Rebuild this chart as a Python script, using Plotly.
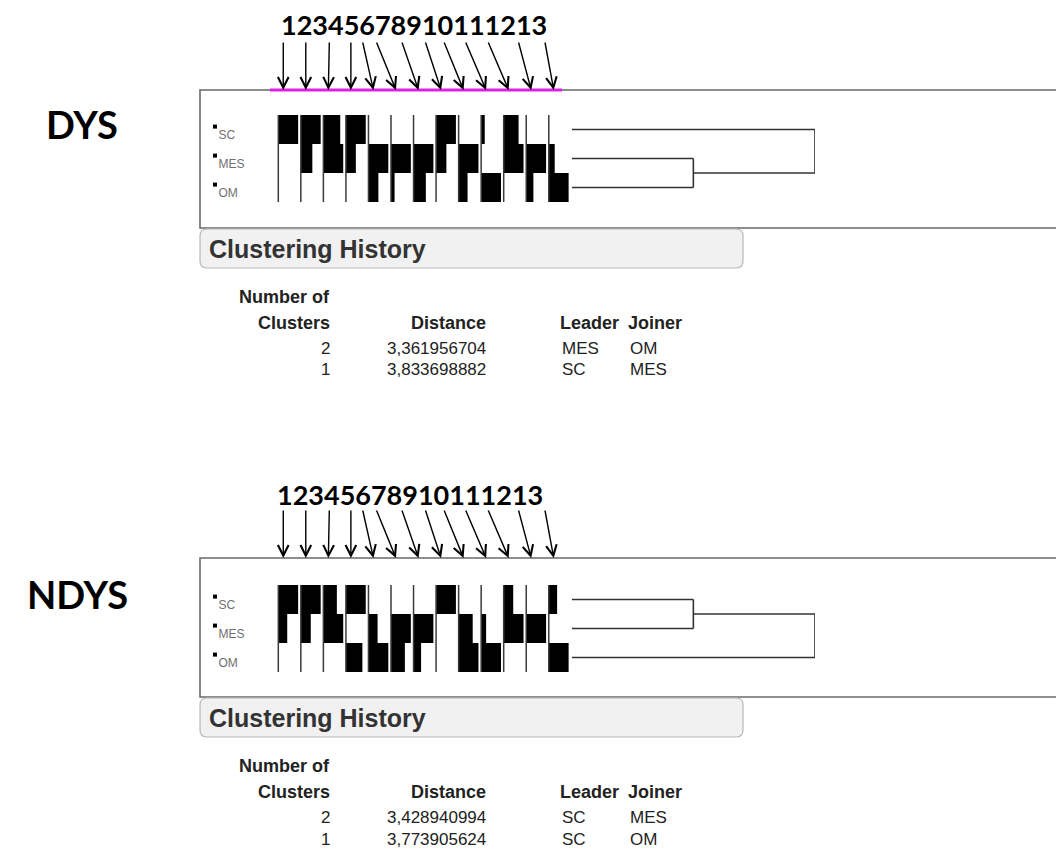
import plotly.graph_objects as go

W, H = 1056, 858

# ---------------- data ----------------
clusters = ["SC", "MES", "OM"]
variables = list(range(1, 14))
variable_labels = [str(v) for v in variables]

# column-scaled cluster means (0 = lowest cluster, 1 = highest cluster)
dys_sc = [1.0, 1.0, 0.85, 1.0, 0.0, 0.0, 0.0, 1.0, 0.0, 0.18, 0.75, 0.0, 0.0]
dys_mes = [0.0, 0.58, 1.0, 0.5, 1.0, 1.0, 1.0, 0.52, 1.0, 0.0, 1.0, 1.0, 0.3]
dys_om = [0.0, 0.0, 0.0, 0.0, 0.5, 0.18, 0.62, 0.0, 0.45, 1.0, 0.0, 0.36, 1.0]

ndys_sc = [1.0, 1.0, 0.68, 1.0, 0.0, 0.0, 0.0, 1.0, 0.0, 0.0, 0.48, 0.0, 0.42]
ndys_mes = [0.45, 0.5, 1.0, 0.0, 0.46, 1.0, 1.0, 0.0, 0.71, 0.25, 1.0, 1.0, 0.0]
ndys_om = [0.0, 0.0, 0.0, 0.83, 1.0, 0.7, 0.38, 0.0, 1.0, 1.0, 0.0, 0.0, 1.0]

# clustering history
dys_n_clusters = [2, 1]
dys_distance = [3.361956704, 3.833698882]
dys_leader = ["MES", "SC"]
dys_joiner = ["OM", "MES"]

ndys_n_clusters = [2, 1]
ndys_distance = [3.428940994, 3.773905624]
ndys_leader = ["SC", "SC"]
ndys_joiner = ["MES", "OM"]

# ---------------- layout constants (pixels) ----------------
COL_PX0, COL_DX = 278.3, 22.54          # first variable column, column pitch
CELL_FRAC = 0.88                         # full cell width as fraction of pitch
ROW_H = 29.0
DENDRO_PX = (571.7, 815.0)
BOX_LEFT = 200
ARROW_LEAN = [0, 0, 1, 0, -11, -20, -17, -16, -20, -21, -21, -13, -9]

panels = [
    dict(name="DYS", vals=[dys_sc, dys_mes, dys_om], nc=dys_n_clusters, dist=dys_distance,
         lead=dys_leader, join=dys_joiner, box_top=90, box_bot=228, row0=129.5,
         label_xy=(82, 124), nums_xy=(414, 24), magenta=True, dy=0),
    dict(name="NDYS", vals=[ndys_sc, ndys_mes, ndys_om], nc=ndys_n_clusters, dist=ndys_distance,
         lead=ndys_leader, join=ndys_joiner, box_top=558, box_bot=697, row0=599.5,
         label_xy=(77, 594), nums_xy=(410, 494), magenta=False, dy=469),
]


def px(x):
    return x / W


def py(y):
    return 1 - y / H


def col_at(p):
    return 1 + (p - COL_PX0) / COL_DX


def dendrogram(leader, joiner, n_clusters):
    node_y = {c: float(i) for i, c in enumerate(clusters)}
    node_x = {c: 0.0 for c in clusters}
    xs, ys = [], []
    for a, b, n in zip(leader, joiner, n_clusters):
        step = len(clusters) - n
        for c in (a, b):
            xs += [node_x[c], step, None]
            ys += [node_y[c], node_y[c], None]
        xs += [step, step, None]
        ys += [node_y[a], node_y[b], None]
        node_y[a] = (node_y[a] + node_y[b]) / 2
        node_x[a] = step
    return xs, ys


def rounded_rect(x0, y0, x1, y1, r):
    rx, ry = r / W, r / H
    X0, X1, Y0, Y1 = px(x0), px(x1), py(y0), py(y1)
    return (f"M {X0+rx},{Y0} L {X1-rx},{Y0} Q {X1},{Y0} {X1},{Y0-ry} "
            f"L {X1},{Y1+ry} Q {X1},{Y1} {X1-rx},{Y1} L {X0+rx},{Y1} "
            f"Q {X0},{Y1} {X0},{Y1+ry} L {X0},{Y0-ry} Q {X0},{Y0} {X0+rx},{Y0} Z")


fig = go.Figure()
layout = dict(
    width=W, height=H, margin=dict(l=0, r=0, t=0, b=0),
    paper_bgcolor="white", plot_bgcolor="rgba(0,0,0,0)", showlegend=False,
)
shapes, annotations = [], []
TXT = "Liberation Sans, Arial, sans-serif"

for k, p in enumerate(panels):
    xa = "x" if k == 0 else "x2"
    ya = "y" if k == 0 else "y2"
    xd = "x3" if k == 0 else "x4"
    sfx = "" if k == 0 else "2"
    dsfx = "3" if k == 0 else "4"

    # axes
    layout["xaxis" + sfx] = dict(domain=[0, 1], range=[col_at(0), col_at(W)], visible=False,
                                 fixedrange=True, anchor=ya)
    layout["yaxis" + sfx] = dict(domain=[py(p["box_bot"]), py(p["box_top"])],
                                 range=[(p["box_bot"] - p["row0"]) / ROW_H,
                                        (p["box_top"] - p["row0"]) / ROW_H],
                                 visible=False, fixedrange=True, anchor=xa)
    layout["xaxis" + dsfx] = dict(domain=[px(DENDRO_PX[0]), px(DENDRO_PX[1])],
                                  range=[0, len(clusters) - 1], visible=False,
                                  fixedrange=True, anchor=ya)

    # cluster profile blocks
    bx, by, bb = [], [], []
    for r, row in enumerate(p["vals"]):
        for v, val in zip(variables, row):
            if val > 0:
                bx.append(val * CELL_FRAC)
                by.append(r)
                bb.append(v)
    fig.add_trace(go.Bar(orientation="h", x=bx, y=by, base=bb, width=[1.0] * len(bx),
                         marker=dict(color="black", line=dict(width=0)),
                         xaxis=xa, yaxis=ya, hoverinfo="skip"))

    # variable stems
    lx, ly = [], []
    for v in variables:
        lx += [v, v, None]
        ly += [-0.5, len(clusters) - 0.5, None]
    fig.add_trace(go.Scatter(x=lx, y=ly, mode="lines", line=dict(color="#3a3a3a", width=1.5),
                             xaxis=xa, yaxis=ya, hoverinfo="skip"))

    # row labels
    fig.add_trace(go.Scatter(x=[col_at(215)] * 3, y=[r - 0.1 for r in range(3)],
                             mode="markers+text", text=clusters, textposition="bottom right",
                             marker=dict(symbol="square", size=4, color="black"),
                             textfont=dict(family=TXT, size=12, color="#707070"),
                             xaxis=xa, yaxis=ya, hoverinfo="skip"))

    # dendrogram
    dx_, dy_ = dendrogram(p["lead"], p["join"], p["nc"])
    fig.add_trace(go.Scatter(x=dx_, y=dy_, mode="lines", line=dict(color="#333333", width=1.6),
                             xaxis=xd, yaxis=ya, hoverinfo="skip"))

    # frame
    shapes.append(dict(type="rect", xref="paper", yref="paper", x0=px(BOX_LEFT), x1=1.05,
                       y0=py(p["box_bot"]), y1=py(p["box_top"]),
                       line=dict(color="#6a6a6a", width=1.6), fillcolor="rgba(0,0,0,0)",
                       layer="below"))
    if p["magenta"]:
        shapes.append(dict(type="line", xref="paper", yref="paper", x0=px(270), x1=px(562),
                           y0=py(p["box_top"]), y1=py(p["box_top"]),
                           line=dict(color="#e020e0", width=3)))

    # panel label
    annotations.append(dict(text=p["name"], x=px(p["label_xy"][0]), y=py(p["label_xy"][1]),
                            xref="paper", yref="paper", xanchor="center", yanchor="middle",
                            showarrow=False,
                            font=dict(family="Lato", size=38, color="black", weight="bold")))
    # variable numbers
    annotations.append(dict(text="".join(variable_labels), x=px(p["nums_xy"][0]),
                            y=py(p["nums_xy"][1]), xref="paper", yref="paper",
                            xanchor="center", yanchor="middle", showarrow=False,
                            font=dict(family="Lato", size=27, color="black", weight="bold")))
    # arrows to each variable
    for v, lean in zip(variables, ARROW_LEAN):
        annotations.append(dict(text="", x=v + 0.22, y=1, xref=xa, yref=ya + " domain",
                                showarrow=True, ax=lean, ay=-49, arrowhead=5, arrowsize=1.5,
                                arrowwidth=1.4, arrowcolor="black"))

    # clustering history header
    dy = p["dy"]
    shapes.append(dict(type="path", xref="paper", yref="paper",
                       path=rounded_rect(BOX_LEFT, 229 + dy, 743, 268 + dy, 7),
                       fillcolor="#f1f1f1", line=dict(color="#b8b8b8", width=1.2)))
    annotations.append(dict(text="Clustering History", x=px(207), y=py(249 + dy),
                            xref="paper", yref="paper", xanchor="left", yanchor="middle",
                            showarrow=False, font=dict(family=TXT, size=25, color="#333",
                                                       weight="bold")))

    hdr = dict(family=TXT, size=18, color="#222", weight="bold")
    body = dict(family=TXT, size=17, color="#222")

    def txt(s, x, y, anchor, font):
        annotations.append(dict(text=s, x=px(x), y=py(y + dy), xref="paper", yref="paper",
                                xanchor=anchor, yanchor="middle", showarrow=False, font=font))

    txt("Number of", 332, 297, "right", hdr)
    txt("Clusters", 332, 323, "right", hdr)
    txt("Distance", 488, 323, "right", hdr)
    txt("Leader", 558, 323, "left", hdr)
    txt("Joiner", 626, 323, "left", hdr)
    for i, (n, d, a, b) in enumerate(zip(p["nc"], p["dist"], p["lead"], p["join"])):
        yy = 348 + i * 22
        txt(str(n), 332, yy, "right", body)
        txt(f"{d:.9f}".replace(".", ","), 488, yy, "right", body)
        txt(a, 560, yy, "left", body)
        txt(b, 628, yy, "left", body)

layout["shapes"] = shapes
layout["annotations"] = annotations
fig.update_layout(**layout)
fig.write_html("out.html")
